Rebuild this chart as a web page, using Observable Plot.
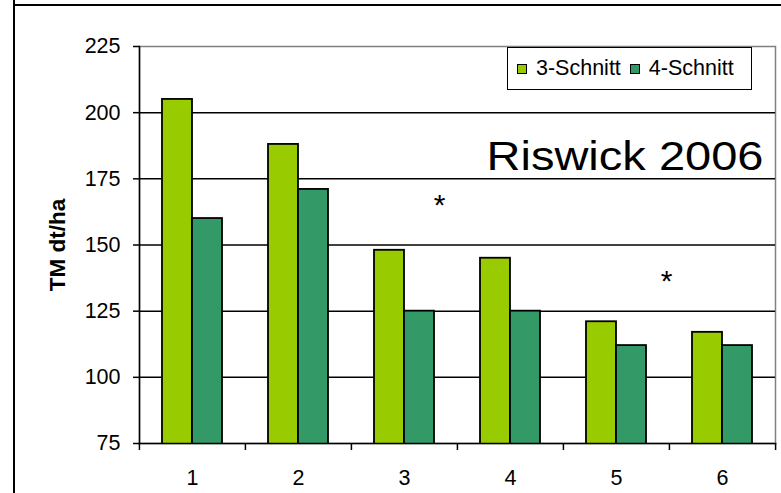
<!DOCTYPE html>
<html>
<head>
<meta charset="utf-8">
<script src="https://cdn.jsdelivr.net/npm/d3@7"></script>
<script src="https://cdn.jsdelivr.net/npm/@observablehq/plot@0.6"></script>
<style>
  body { margin: 0; background: #fff; font-family: "Liberation Sans", Arial, sans-serif; }
  #chart { position: relative; width: 781px; height: 493px; overflow: hidden; background: #fff; }
  #chart svg { position: absolute; left: 0; top: 0; }
  .edge-left { position: absolute; left: 13px; top: 0; width: 2px; height: 493px; background: #000; }
  .edge-top { position: absolute; left: 13px; top: 4px; width: 768px; height: 2px; background: #000; }
  .legend {
    position: absolute; left: 507px; top: 47px; width: 234px; height: 41px;
    border: 1.5px solid #000; background: #fff;
    display: flex; align-items: center; padding-left: 9px; box-sizing: content-box;
    font-size: 21.5px; color: #000; white-space: nowrap;
  }
  .legend .item { display: flex; align-items: center; margin-right: 9px; }
  .legend .swatch { width: 8px; height: 8px; border: 1.5px solid #000; margin-right: 9px; }
</style>
</head>
<body>
<div id="chart"></div>
<script>
// Cutting regimes compared at six sites/variants (TM dt/ha)
const groups = ["1", "2", "3", "4", "5", "6"];
const series = ["3-Schnitt", "4-Schnitt"];
const schnitt3 = [205, 188, 148, 145, 121, 117];
const schnitt4 = [160, 171, 125, 125, 112, 112];
const seriesColors = ["#99cc00", "#339966"];
const yTicks = [75, 100, 125, 150, 175, 200, 225];
const gridTicks = [100, 125, 150, 175, 200];
const starGroups = ["3", "5"];
const starValues = [167, 138];
const yLabel = "TM dt/ha";
const title = "Riswick 2006";

const rows = groups.flatMap((g, i) => [
  {group: g, series: series[0], value: schnitt3[i]},
  {group: g, series: series[1], value: schnitt4[i]}
]);
const stars = starGroups.map((g, i) => ({group: g, series: series[1], value: starValues[i]}));

const fontFamily = "Liberation Sans, Arial, sans-serif";
const halfGroup = 637 / 12;

const plot = Plot.plot({
  width: 781,
  height: 493,
  marginLeft: 138,
  marginRight: 6,
  marginTop: 46,
  marginBottom: 50,
  style: {fontFamily, fontSize: "21.5px", color: "#000", background: "transparent", overflow: "visible"},
  fx: {domain: groups, padding: 0, axis: null, label: null},
  x: {domain: series, paddingInner: 0, paddingOuter: 0.74, axis: null},
  y: {domain: [75, 225], axis: null},
  color: {domain: series, range: seriesColors},
  marks: [
    Plot.frame({facet: "super", stroke: "#808080", strokeWidth: 1.5}),
    Plot.ruleY(gridTicks, {stroke: "#000", strokeWidth: 1.5}),
    Plot.barY(rows, {fx: "group", x: "series", y: "value", fill: "series", stroke: "#000", strokeWidth: 1.8, clip: true}),
    Plot.frame({facet: "super", anchor: "left", stroke: "#000", strokeWidth: 1.5}),
    Plot.frame({facet: "super", anchor: "bottom", stroke: "#000", strokeWidth: 1.5}),
    Plot.axisY({ticks: yTicks, tickSize: 6, tickPadding: 13, fontSize: 21.5, label: null, strokeWidth: 1.5}),
    Plot.axisFx({anchor: "bottom", tickSize: 0, tickPadding: 26, fontSize: 21.5, label: null}),
    // group boundary ticks under the category axis
    Plot.axisFx({anchor: "bottom", tickSize: 7, fill: "none", dx: -halfGroup, label: null, strokeWidth: 1.5}),
    Plot.axisFx({anchor: "bottom", ticks: [groups[groups.length - 1]], tickSize: 7, fill: "none", dx: halfGroup, label: null, strokeWidth: 1.5}),
    Plot.text([yLabel], {facet: "super", frameAnchor: "left", textAnchor: "middle", rotate: -90, dx: -82, fontWeight: "bold", fontSize: 22.5}),
    Plot.text([title], {facet: "super", frameAnchor: "top-right", textAnchor: "end", lineAnchor: "bottom", dx: -12, dy: 123, fontSize: 41.5}),
    Plot.text(stars.filter(d => d.group === starGroups[0]), {fx: "group", x: "series", y: "value", text: () => "*", dx: 20, dy: 5, fontSize: 30}),
    Plot.text(stars.filter(d => d.group === starGroups[1]), {fx: "group", x: "series", y: "value", text: () => "*", dx: 35, dy: 5, fontSize: 30})
  ]
});

// widen the site title to its drawn length
d3.select(plot).selectAll("text").filter(function () { return this.textContent === title; })
  .attr("textLength", 277).attr("lengthAdjust", "spacingAndGlyphs");

const chart = document.getElementById("chart");
chart.appendChild(plot);

const edgeLeft = document.createElement("div");
edgeLeft.className = "edge-left";
chart.appendChild(edgeLeft);
const edgeTop = document.createElement("div");
edgeTop.className = "edge-top";
chart.appendChild(edgeTop);

const legend = document.createElement("div");
legend.className = "legend";
series.forEach((s, i) => {
  const item = document.createElement("div");
  item.className = "item";
  const sw = document.createElement("div");
  sw.className = "swatch";
  sw.style.background = seriesColors[i];
  const label = document.createElement("span");
  label.textContent = s;
  item.appendChild(sw);
  item.appendChild(label);
  legend.appendChild(item);
});
chart.appendChild(legend);
</script>
</body>
</html>
